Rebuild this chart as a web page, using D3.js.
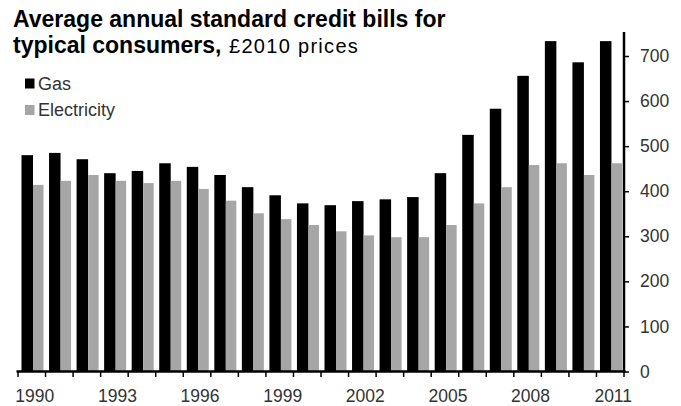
<!DOCTYPE html>
<html><head><meta charset="utf-8">
<script src="https://cdn.jsdelivr.net/npm/d3@7"></script>
<style>
body{margin:0;background:#fff;}
svg{display:block;font-family:"Liberation Sans",Arial,sans-serif;}
</style></head>
<body><svg id="c" width="681" height="406"></svg>
<script>
const years = [1990,1991,1992,1993,1994,1995,1996,1997,1998,1999,2000,2001,2002,2003,2004,2005,2006,2007,2008,2009,2010,2011];
const gas = [480,485,471,440,445,462,454,436,409,391,373,369,378,382,387,440,525,583,656,733,686,733];
const electricity = [414,423,436,423,418,423,405,379,351,338,325,311,302,298,298,325,373,409,458,462,436,462];
const yTicks = [0,100,200,300,400,500,600,700];
const xLabelYears = [1990,1993,1996,1999,2002,2005,2008,2011];
const seriesNames = ["Gas","Electricity"];
const colors = ["#000000","#a6a6a6"];

const svg = d3.select("#c");
const x = d3.scaleBand().domain(years).range([18,624]).padding(0);
const y = d3.scaleLinear().domain([0,700]).range([371.5,56]);

// bars
const g = svg.append("g");
g.selectAll(".gas").data(years).join("rect")
  .attr("x", (d)=>x(d)+3.5).attr("width",11.5)
  .attr("y",(d,i)=>y(gas[i])).attr("height",(d,i)=>y(0)-y(gas[i]))
  .attr("fill",colors[0]);
g.selectAll(".el").data(years).join("rect")
  .attr("x", (d)=>x(d)+15).attr("width",10.5)
  .attr("y",(d,i)=>y(electricity[i])).attr("height",(d,i)=>y(0)-y(electricity[i]))
  .attr("fill",colors[1]);

// right axis
const ya = svg.append("g").attr("transform","translate(624,0)")
  .call(d3.axisRight(y).tickValues(yTicks).tickSize(5).tickPadding(11));
ya.select(".domain").attr("d",`M0,32V${y(0)+1}`).attr("stroke","#000").attr("stroke-width",2.5);
ya.selectAll(".tick line").attr("stroke","#000").attr("stroke-width",1.5);
ya.selectAll(".tick text").attr("font-size",17.5).attr("fill","#333").attr("font-family","Liberation Sans, Arial, sans-serif");

// bottom axis
const xa = svg.append("g").attr("transform",`translate(0,${y(0)})`);
xa.append("line").attr("x1",16.5).attr("x2",625.5).attr("y1",0).attr("y2",0).attr("stroke","#000").attr("stroke-width",2.5);
const bounds = years.map(d=>x(d)).concat([x.range()[1]]);
xa.selectAll(".xt").data(bounds).join("line")
  .attr("x1",d=>d).attr("x2",d=>d).attr("y1",0).attr("y2",5.5)
  .attr("stroke","#000").attr("stroke-width",1.5);
xa.selectAll(".xl").data(xLabelYears).join("text")
  .attr("x",d=>x(d)+x.bandwidth()/2+3).attr("y",30.5)
  .attr("text-anchor","middle").attr("font-size",17.5).attr("fill","#333")
  .text(d=>d);

// title
svg.append("text").attr("x",13).attr("y",27).attr("font-size",23).attr("font-weight","bold").attr("fill","#000")
  .text("Average annual standard credit bills for");
const t2 = svg.append("text").attr("y",53).attr("fill","#000");
t2.append("tspan").attr("x",13).attr("font-size",23).attr("font-weight","bold").text("typical consumers,");
t2.append("tspan").attr("x",229).attr("font-size",20).attr("letter-spacing","1.3px").text("£2010 prices");

// legend
const lg = svg.append("g");
seriesNames.forEach((n,i)=>{
  lg.append("rect").attr("x",25).attr("y",78.5+i*26.5).attr("width",9.5).attr("height",10).attr("fill",colors[i]);
  lg.append("text").attr("x",38).attr("y",89.5+i*26).attr("font-size",18).attr("fill","#333").text(n);
});
</script></body></html>
